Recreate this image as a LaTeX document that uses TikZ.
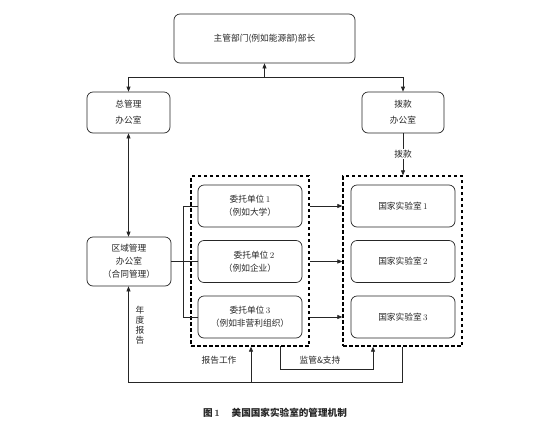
\documentclass[tikz,border=0pt]{standalone}
\usepackage{fontspec}
\newfontfamily\cjk{Noto Sans CJK SC}
\usetikzlibrary{arrows.meta}
\begin{document}
\begin{tikzpicture}[x=1pt,y=-1pt,
  every node/.style={font=\cjk\fontsize{8.7}{13}\selectfont, text=black!85},
  box/.style={draw=black!85, line width=0.7pt, rounded corners=6pt, minimum width=#1, inner sep=0pt, align=center},
  dbox/.style={draw=black, line width=1.3pt, dash pattern=on 3.5pt off 2.5pt, inner sep=0pt},
  conn/.style={draw=black!85, line width=0.7pt},
  arr/.style={conn, -{Triangle[length=5pt,width=4pt]}},
  darr/.style={conn, {Triangle[length=5pt,width=4pt]}-{Triangle[length=5pt,width=4pt]}},
  lab/.style={inner sep=1pt}]
\useasboundingbox (0,0) rectangle (550,424);
% boxes
\node[box=181pt, minimum height=49pt] (top) at (264.5,38.5) {主管部门(例如能源部)部长};
\node[box=83pt, minimum height=41pt] (zong) at (128.5,112.5) {总管理\\[3pt]办公室};
\node[box=82pt, minimum height=41pt] (bokuan) at (403,112.5) {拨款\\[3pt]办公室};
\node[box=84pt, minimum height=49pt] (qy) at (129,261.5) {区域管理\\[0pt]办公室\\（合同管理）};
\node[dbox, minimum width=118pt, minimum height=170pt] (L) at (250,261) {};
\node[dbox, minimum width=119pt, minimum height=170pt] (R) at (402.5,261) {};
\node[box=104pt, minimum height=42pt] (w1) at (250,206) {委托单位{\rmfamily\,1}\\（例如大学）};
\node[box=104pt, minimum height=42pt] (w2) at (250,261.5) {\hspace*{8pt}委托单位{\rmfamily\,2}\\（例如企业）};
\node[box=104pt, minimum height=42pt] (w3) at (250,317) {委托单位{\rmfamily\,3}\\（例如非营利组织）};
\node[box=104pt, minimum height=42pt] (g1) at (403,206) {国家实验室{\rmfamily\,1}};
\node[box=104pt, minimum height=42pt] (g2) at (403,261.5) {国家实验室{\rmfamily\,2}};
\node[box=104pt, minimum height=42pt] (g3) at (403,317) {国家实验室{\rmfamily\,3}};
% top connectors
\coordinate (j) at (264.5,77);
\draw[arr] (j) -- (top.south);
\draw[arr] (j) -| (zong.north);
\draw[arr] (j) -| (bokuan.north);
\draw[darr] (zong.south) -- (zong.south |- qy.north);
\draw[arr] (bokuan.south) -- node[lab, fill=white] (bk) {拨款} (bokuan.south |- R.north);
% bracket
\draw[conn] (qy.east) -- (w2.west);
\draw[conn] (w1.west) -- ++(-14,0) |- (w3.west);
% arrows L -> R
\draw[arr] (L.east |- w1.west) -- (R.west |- w1.west);
\draw[arr] (L.east |- w2.west) -- (R.west |- w2.west);
\draw[arr] (L.east |- w3.west) -- (R.west |- w3.west);
% bottom loops
\coordinate (lb) at (128.5,382);
\coordinate (rb) at (251,382);
\draw[arr] (R.south) |- (lb) -- (lb |- qy.south);
\draw[arr] (rb) -- (rb |- L.south);
\coordinate (m1) at (280,346);
\coordinate (m2) at (373,369);
\draw[arr] (m1) |- (m2) -- (m2 |- R.south);
% labels
\node[lab] (l1) at (219,360) {报告工作};
\node[lab] (l2) at (320,360) {监管\&支持};
\node[lab, align=center, font=\cjk\fontsize{8.7}{10}\selectfont] (l3) at (140,325) {年\\度\\报\\告};
\node[lab, font=\cjk\bfseries\fontsize{9.6}{11}\selectfont] (cap) at (275,413) {图{\rmfamily\,1}\quad\ 美国国家实验室的管理机制};
\end{tikzpicture}
\end{document}
